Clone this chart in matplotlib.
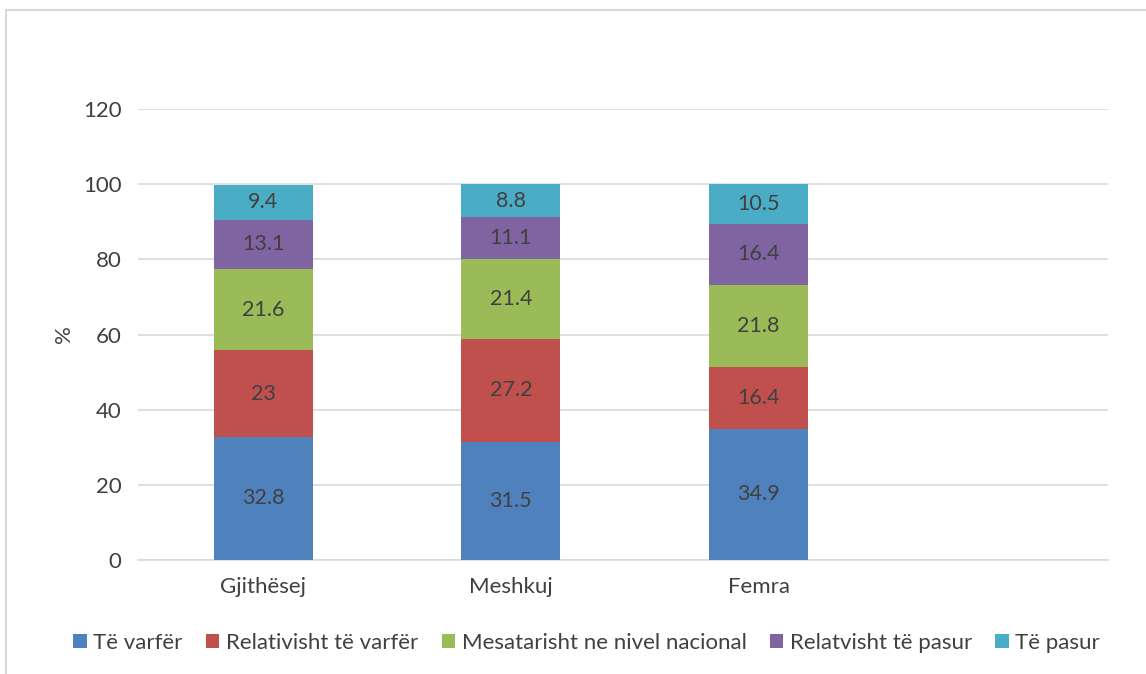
import matplotlib.pyplot as plt
import numpy as np
from matplotlib.patches import Rectangle

# categories and series (percent)
categories = ["Gjithësej", "Meshkuj", "Femra"]
series_names = ["Të varfër", "Relativisht të varfër", "Mesatarisht ne nivel nacional",
                "Relatvisht të pasur", "Të pasur"]
te_varfer = [32.8, 31.5, 34.9]
rel_varfer = [23, 27.2, 16.4]
mesatarisht = [21.6, 21.4, 21.8]
rel_pasur = [13.1, 11.1, 16.4]
te_pasur = [9.4, 8.8, 10.5]
labels = [["32.8", "31.5", "34.9"], ["23", "27.2", "16.4"], ["21.6", "21.4", "21.8"],
          ["13.1", "11.1", "16.4"], ["9.4", "8.8", "10.5"]]

colors = ["#4F81BD", "#C0504D", "#9BBB59", "#8064A2", "#4BACC6"]
text_c = "#404040"

plt.rcParams['font.family'] = ['Lato', 'DejaVu Sans']

fig = plt.figure(figsize=(11.46, 6.74), dpi=100)
ax = fig.add_axes([138/1146, 1 - 560/674, (1108-138)/1146, (560-109)/674])

# light border around the chart area
fig.patches.append(Rectangle((6/1146, -0.1), 1.2, 1 - 10/674 + 0.1, transform=fig.transFigure,
                             fill=False, edgecolor="#D9D9D9", linewidth=1.5))

x = np.arange(len(categories))
bottom = np.zeros(len(categories))
for vals, name, col, labs in zip([te_varfer, rel_varfer, mesatarisht, rel_pasur, te_pasur],
                                 series_names, colors, labels):
    bars = ax.bar(x, vals, width=0.4, bottom=bottom, color=col, label=name, zorder=3)
    ax.bar_label(bars, labels=labs, label_type='center', fontsize=15.5, color=text_c)
    bottom += np.array(vals)

ax.set_ylim(0, 120)
ax.set_xlim(-0.505, 3.41)
ax.set_yticks(range(0, 121, 20))
ax.set_xticks(x)
ax.set_xticklabels(categories)
ax.tick_params(axis='both', length=0, labelsize=16, colors=text_c)
ax.tick_params(axis='y', pad=12)
ax.tick_params(axis='x', pad=12)
ax.grid(axis='y', color="#D9D9D9", linewidth=1.2, zorder=0)
for s in ['top', 'right', 'left']:
    ax.spines[s].set_visible(False)
ax.spines['bottom'].set_color("#D9D9D9")
ax.spines['bottom'].set_linewidth(1.2)
ax.set_ylabel("%", fontsize=16, color=text_c, labelpad=6)

fig.legend(loc='center', bbox_to_anchor=(0.512, 1 - 643/674), ncol=5, frameon=False,
           fontsize=16, labelcolor=text_c, handlelength=0.6, handleheight=0.6,
           handletextpad=0.3, columnspacing=1.05)

fig.savefig("out.png", dpi=100)
